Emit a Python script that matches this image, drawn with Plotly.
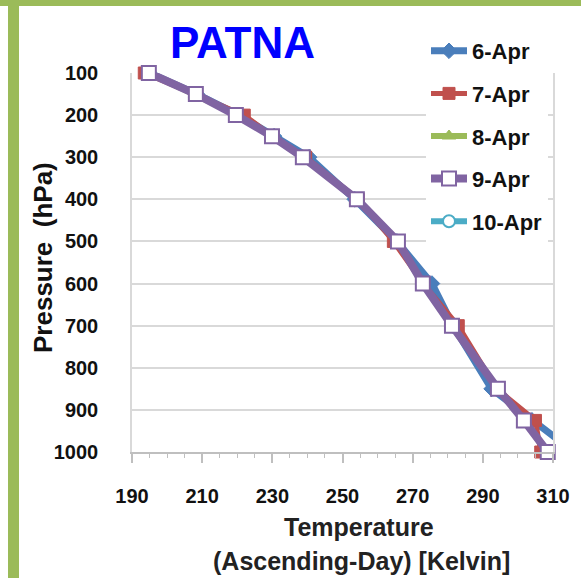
import plotly.graph_objects as go

# ---- data ----
pressure = [100, 150, 200, 250, 300, 400, 500, 600, 700, 850, 925, 1000]
series_names = ["6-Apr", "7-Apr", "8-Apr", "9-Apr", "10-Apr"]
t_6apr = [195.0, 208.5, 220.5, 230.5, 240.5, 253.5, 265.5, 275.5, 281.5, 292.5, 304.0, 316.0]
t_7apr = [193.5, 208.0, 222.0, 230.0, 239.5, 254.5, 264.5, 273.0, 283.0, 294.0, 305.0, 306.5]
t_8apr = [195.0, 208.0, 220.0, 230.0, 239.0, 254.0, 265.5, 273.0, 281.5, 294.0, 302.0, 308.0]
t_9apr = [194.8, 208.2, 219.6, 229.9, 238.7, 254.1, 265.8, 272.9, 281.2, 294.3, 301.7, 308.5]
t_10apr = [194.8, 208.2, 219.8, 230.0, 238.8, 254.0, 265.6, 273.0, 281.3, 294.2, 301.8, 308.4]
x_ticks = [190, 210, 230, 250, 270, 290, 310]
y_ticks = [100, 200, 300, 400, 500, 600, 700, 800, 900, 1000]

W, H = 581, 578
L, R, T, B = 132, 553, 73, 452


def px_x(px):
    return (px - L) / (R - L)


def px_y(py):
    return (B - py) / (B - T)


FONT = "Liberation Sans"
fig = go.Figure()

styles = {
    "6-Apr": dict(color="#4A7EBB", width=7, symbol="diamond", size=12, fill="#4A7EBB", lw=1, rank=1),
    "7-Apr": dict(color="#C0504D", width=5, symbol="square", size=12, fill="#C0504D", lw=1, rank=2),
    "8-Apr": dict(color="#9BBB59", width=6, symbol="triangle-up", size=12, fill="#9BBB59", lw=1, rank=3),
    "9-Apr": dict(color="#8064A2", width=8, symbol="square", size=14, fill="#FFFFFF", lw=2, rank=4),
    "10-Apr": dict(color="#4BACC6", width=6, symbol="circle", size=12, fill="#FFFFFF", lw=2, rank=5),
}
data = {"6-Apr": t_6apr, "7-Apr": t_7apr, "8-Apr": t_8apr, "9-Apr": t_9apr, "10-Apr": t_10apr}
draw_order = ["10-Apr", "8-Apr", "6-Apr", "7-Apr", "9-Apr"]

for name in draw_order:
    s = styles[name]
    fig.add_trace(go.Scatter(
        x=data[name], y=pressure, name=name, mode="lines+markers",
        line=dict(color=s["color"], width=s["width"]),
        marker=dict(symbol=s["symbol"], size=s["size"], color=s["fill"],
                    line=dict(color=s["color"], width=s["lw"])),
        legendrank=s["rank"], legendgroup=name, cliponaxis=False,
    ))

fig.update_layout(
    width=W, height=H, autosize=False,
    margin=dict(l=L, r=W - R, t=T, b=H - B, pad=0),
    paper_bgcolor="white", plot_bgcolor="white",
    font=dict(family=FONT, color="#111111"),
    showlegend=True,
    legend=dict(
        x=px_x(426), y=px_y(30), xanchor="left", yanchor="top",
        bgcolor="white", borderwidth=0,
        font=dict(family=FONT, size=22, color="#111111", weight="bold"),
        traceorder="grouped", tracegroupgap=11, itemwidth=36,
    ),
    xaxis=dict(
        range=[190, 310], tickvals=x_ticks, ticktext=[str(v) for v in x_ticks],
        showgrid=False, zeroline=False,
        showline=True, linecolor="#BFBFBF", linewidth=1.5,
        ticks="outside", ticklen=9, tickcolor="#BFBFBF", tickwidth=1.5,
        minor=dict(dtick=5, tick0=190, ticks="outside", ticklen=4, tickcolor="#BFBFBF", tickwidth=1),
        tickfont=dict(family=FONT, size=20, color="#111111", weight="bold"),
        ticklabelstandoff=16,
    ),
    yaxis=dict(
        range=[1000, 100], tickvals=y_ticks, ticktext=[str(v) for v in y_ticks],
        showgrid=True, gridcolor="#D9D9D9", gridwidth=1.5, zeroline=False,
        showline=True, mirror=True, linecolor="#D9D9D9", linewidth=1.5,
        ticks="", tickfont=dict(family=FONT, size=20, color="#111111", weight="bold"),
        ticklabelstandoff=28,
    ),
)

# title and axis titles
ann = dict(xref="paper", yref="paper", showarrow=False, xanchor="center", yanchor="middle")
fig.add_annotation(text="<b>PATNA</b>", x=px_x(242), y=px_y(42),
                   font=dict(family=FONT, size=44, color="#0000FF"), **ann)
fig.add_annotation(text="<b>Pressure  (hPa)</b>", x=px_x(43), y=px_y(258), textangle=-90,
                   font=dict(family=FONT, size=26, color="#111111"), **ann)
fig.add_annotation(text="<b>Temperature</b>", x=px_x(359), y=px_y(527),
                   font=dict(family=FONT, size=25, color="#222222"), **ann)
fig.add_annotation(text="(Ascending-Day) [Kelvin]", x=px_x(361), y=px_y(561),
                   font=dict(family=FONT, size=25, color="#222222", weight=600), **ann)

# green frame
green = "#9BBB59"
fig.add_shape(type="rect", xref="paper", yref="paper", x0=px_x(0), x1=px_x(W), y0=px_y(6), y1=px_y(0),
              fillcolor=green, line=dict(width=0), layer="above")
fig.add_shape(type="rect", xref="paper", yref="paper", x0=px_x(8), x1=px_x(19), y0=px_y(H), y1=px_y(0),
              fillcolor=green, line=dict(width=0), layer="above")

fig.write_html("out.html", config={"displayModeBar": False},
               post_script="document.body.style.margin='0px';document.body.style.overflow='hidden';")
